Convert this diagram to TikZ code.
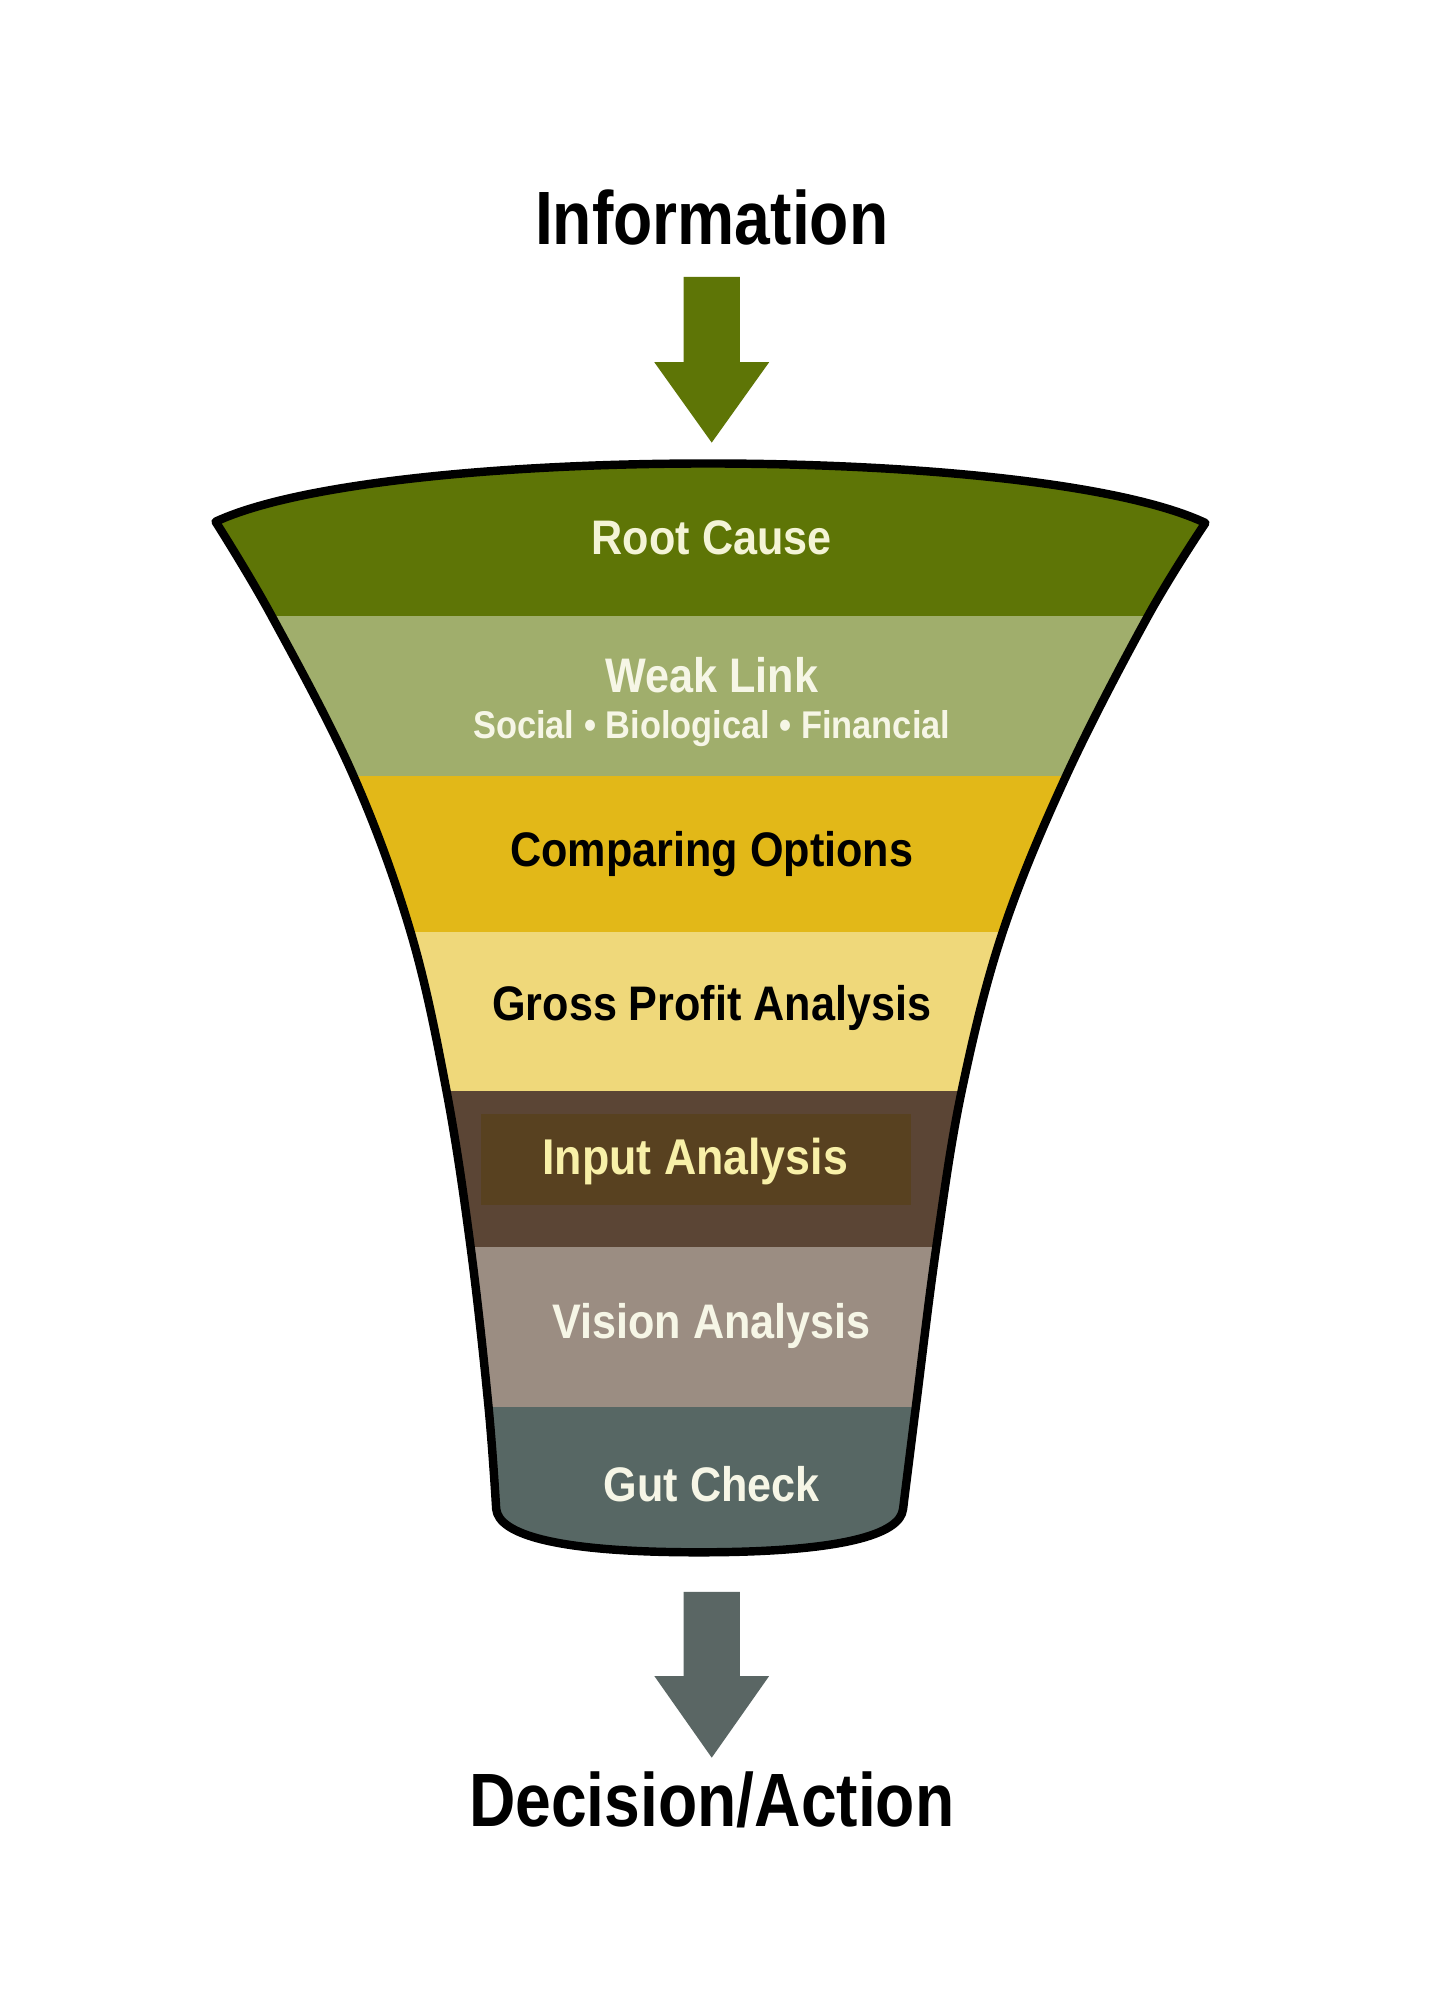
\documentclass[tikz,border=0pt]{standalone}
\usepackage{fontspec}
\setmainfont{Liberation Sans}
\newfontfamily\headfont[FakeStretch=0.85]{Liberation Sans}
\newfontfamily\bandfont[FakeStretch=0.89]{Liberation Sans}
\definecolor{rootgreen}{RGB}{94,117,6}
\definecolor{weakgreen}{RGB}{160,174,108}
\definecolor{comparegold}{RGB}{226,184,24}
\definecolor{grosssand}{RGB}{239,216,122}
\definecolor{inputbrown}{RGB}{91,69,53}
\definecolor{inputdark}{RGB}{88,65,32}
\definecolor{visiontaupe}{RGB}{155,141,130}
\definecolor{gutslate}{RGB}{87,103,100}
\definecolor{outgrey}{RGB}{90,102,100}
\definecolor{creamtext}{RGB}{244,244,214}
\definecolor{paletext}{RGB}{246,246,230}
\definecolor{inputtext}{RGB}{248,240,168}
\tikzset{
  headlabel/.style={font=\headfont\bfseries\fontsize{21.5}{24}\selectfont,
    text=black,inner sep=0pt,anchor=base},
  bandlabel/.style={font=\bandfont\bfseries\fontsize{13.8}{16}\selectfont,
    inner sep=0pt,anchor=base},
  sublabel/.style={font=\bandfont\bfseries\fontsize{11}{13}\selectfont,
    inner sep=0pt,anchor=base},
  funnelline/.style={draw=black,line width=2.4pt,line join=round}
}
\newcommand{\funnelpath}{(169,409) .. controls (300,348) and (814,348) .. (945,410)
  -- plot[smooth,tension=0.6] coordinates {(945,410) (900,483) (836,608)
     (786,731) (754,855) (734,978) (718,1103) (708,1183)}
  .. controls (706,1203) and (660,1217) .. (548,1217)
  .. controls (436,1217) and (391,1203) .. (389,1183)
  -- plot[smooth,tension=0.6] coordinates {(389,1183) (383,1103) (369,978)
     (350,855) (322,731) (277,608) (213,483) (169,409)}
  -- cycle}

\begin{document}
\begin{tikzpicture}[x=0.01275cm,y=-0.01275cm]
  \useasboundingbox (0,0) rectangle (1120,1568);
  \fill[white] (0,0) rectangle (1120,1568);

  % bands of the funnel
  \begin{scope}
    \clip \funnelpath;
    \fill[rootgreen] (100,300) rectangle (1020,483);
    \fill[weakgreen] (100,483) rectangle (1020,608);
    \fill[comparegold] (100,608) rectangle (1020,731);
    \fill[grosssand] (100,731) rectangle (1020,855);
    \fill[inputbrown] (100,855) rectangle (1020,978);
    \fill[inputdark] (377,873) rectangle (714,945);
    \fill[visiontaupe] (100,978) rectangle (1020,1103);
    \fill[gutslate] (100,1103) rectangle (1020,1260);
  \end{scope}
  \path[funnelline] \funnelpath;

  \node[headlabel] (info) at (558,192) {Information};
  \node[bandlabel,text=creamtext] (root) at (558,435) {Root Cause};
  \node[bandlabel,text=paletext] (weak) at (558,543) {Weak Link};
  \node[sublabel,text=paletext] (weaksub) at (558,579) {Social • Biological • Financial};
  \node[bandlabel,text=black] (compare) at (558,679) {Comparing Options};
  \node[bandlabel,text=black] (gross) at (558,800) {Gross Profit Analysis};
  \node[bandlabel,text=inputtext,font=\bandfont\bfseries\fontsize{14.3}{16}\selectfont]
    (input) at (545,921) {Input Analysis};
  \node[bandlabel,text=paletext] (vision) at (558,1049) {Vision Analysis};
  \node[bandlabel,text=paletext] (gut) at (558,1177) {Gut Check};
  \node[headlabel] (decision) at (558,1432) {Decision/Action};

  % block arrows in and out
  \coordinate (intop) at (558,217);
  \coordinate (intip) at (558,347);
  \coordinate (outtop) at (558,1248);
  \coordinate (outtip) at (558,1378);
  \fill[rootgreen] (intop) ++(-22,0) -- ++(44,0) -- ++(0,67) -- ++(23,0)
    -- (intip) -- ++(-45,-63) -- ++(23,0) -- cycle;
  \fill[outgrey] (outtop) ++(-22,0) -- ++(44,0) -- ++(0,66) -- ++(23,0)
    -- (outtip) -- ++(-45,-64) -- ++(23,0) -- cycle;
\end{tikzpicture}
\end{document}
